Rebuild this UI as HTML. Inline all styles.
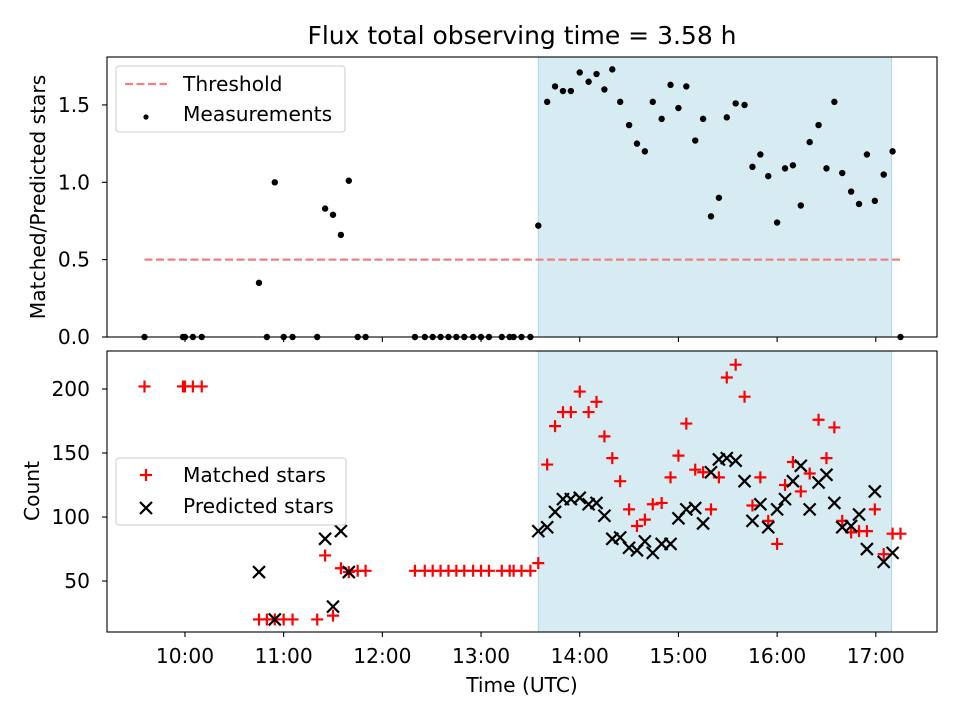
<!DOCTYPE html>
<html><head><meta charset="utf-8"><style>
body{margin:0;background:#fff}
svg{display:block;font-family:"DejaVu Sans","Liberation Sans",sans-serif}
</style></head><body>
<svg id="c" width="960" height="720" viewBox="0 0 960 720"></svg>
<script>
const times=[9.59,9.98,10.0,10.08,10.17,10.75,10.83,10.91,11.0,11.09,11.34,11.42,11.50,11.58,11.66,11.75,11.83,
12.33,12.43,12.51,12.59,12.67,12.75,12.83,12.92,13.0,13.08,13.21,13.29,13.33,13.41,13.5,
13.58,13.67,13.75,13.83,13.91,14.0,14.09,14.17,14.25,14.33,14.41,14.50,14.58,14.66,14.74,14.83,14.92,15.0,15.08,15.17,15.25,15.33,15.41,15.49,15.58,15.67,15.75,15.83,15.91,16.0,16.08,16.16,16.24,16.33,16.42,16.50,16.58,16.66,16.75,16.83,16.91,16.99,17.08,17.17,17.25];
const ratio=[0,0,0,0,0,0.35,0,1.0,0,0,0,0.83,0.79,0.66,1.01,0,0,
0,0,0,0,0,0,0,0,0,0,0,0,0,0,0,
0.72,1.52,1.62,1.59,1.59,1.71,1.65,1.70,1.60,1.73,1.52,1.37,1.25,1.20,1.52,1.41,1.63,1.48,1.62,1.27,1.41,0.78,0.90,1.42,1.51,1.50,1.10,1.18,1.04,0.74,1.09,1.11,0.85,1.26,1.37,1.09,1.52,1.06,0.94,0.86,1.18,0.88,1.05,1.20,0];
const matched=[202,202,202,202,202,20,20,20,20,20,20,70,23,60,57,58,58,
58,58,58,58,58,58,58,58,58,58,58,58,58,58,58,
64,141,171,182,182,198,182,190,163,146,128,106,93,98,110,111,131,148,173,137,135,106,131,209,219,194,109,131,97,79,125,143,120,134,176,146,170,97,88,89,89,106,71,87,87];
const predicted=[null,null,null,null,null,57,null,20,null,null,null,83,30,89,57,null,null,
null,null,null,null,null,null,null,null,null,null,null,null,null,null,null,
89,92,104,114,114,115,110,111,101,83,84,76,74,81,72,79,79,99,106,107,95,135,145,146,144,128,97,110,92,106,114,128,140,106,127,133,111,92,93,102,75,120,65,72,null];
const xTicks=[10,11,12,13,14,15,16,17];
const xTickLabels=["10:00","11:00","12:00","13:00","14:00","15:00","16:00","17:00"];
const topTicks=[0,0.5,1.0,1.5];
const botTicks=[50,100,150,200];
const threshold=0.5, shadeStart=13.58, shadeEnd=17.16, thrStart=9.59, thrEnd=17.25;

const NS="http://www.w3.org/2000/svg";
const svg=document.getElementById('c');
function el(tag,attrs,parent,text){const e=document.createElementNS(NS,tag);for(const k in attrs)e.setAttribute(k,attrs[k]);if(text!=null)e.textContent=text;(parent||svg).appendChild(e);return e;}
const L=107,R=937,T1=57,B1=337,T2=351,B2=632,FS=20.2;
const X=t=>L+(t-9.21)/(17.62-9.21)*(R-L);
const Y1=v=>B1-v/1.81*(B1-T1);
const Y2=v=>B2-(v-10.2)/(229.7-10.2)*(B2-T2);

let e=el('text',{x:522,y:44,'text-anchor':'middle','font-size':25},null,'Flux total observing time = 3.58 h');



[[T1,B1],[T2,B2]].forEach(([a,b],i)=>{
 const r=el('rect',{x:X(shadeStart),y:a,width:X(shadeEnd)-X(shadeStart),height:b-a,fill:'#add8e6','fill-opacity':0.5,stroke:'#add8e6'});
 
 
});

e=el('line',{x1:X(thrStart),x2:X(thrEnd),y1:Y1(threshold),y2:Y1(threshold),stroke:'#f08080','stroke-width':2.2,'stroke-dasharray':'8,3.5'});



times.forEach((t,i)=>{
 const c=el('circle',{cx:X(t),cy:Y1(ratio[i]),r:3.2,fill:'#000'});
 
 
});
times.forEach((t,i)=>{
 if(matched[i]!=null){
  const x=X(t),y=Y2(matched[i]);
  const p=el('path',{d:`M${x-6},${y}H${x+6}M${x},${y-6}V${y+6}`,stroke:'#f00','stroke-width':2.2});
  
  
 }
});
times.forEach((t,i)=>{
 if(predicted[i]!=null){
  const x=X(t),y=Y2(predicted[i]);
  const p=el('path',{d:`M${x-6},${y-6}L${x+6},${y+6}M${x-6},${y+6}L${x+6},${y-6}`,stroke:'#000','stroke-width':2.2});
  
  
 }
});

[[T1,B1],[T2,B2]].forEach(([a,b],i)=>{
 const r=el('rect',{x:L,y:a,width:R-L,height:b-a,fill:'none',stroke:'#000','stroke-width':1.1});
 
 
 xTicks.forEach((t,j)=>{
  el('line',{x1:X(t),x2:X(t),y1:b,y2:b+5,stroke:'#000','stroke-width':1.1});
  if(i){const tx=el('text',{x:X(t),y:663,'text-anchor':'middle','font-size':FS},null,xTickLabels[j]);
   
   }
 });
});
topTicks.forEach(v=>{el('line',{x1:L-5,x2:L,y1:Y1(v),y2:Y1(v),stroke:'#000','stroke-width':1.1});
 const tx=el('text',{x:L-17,y:Y1(v)+7,'text-anchor':'end','font-size':FS},null,v.toFixed(1));
 
 });
botTicks.forEach(v=>{el('line',{x1:L-5,x2:L,y1:Y2(v),y2:Y2(v),stroke:'#000','stroke-width':1.1});
 const tx=el('text',{x:L-17,y:Y2(v)+7,'text-anchor':'end','font-size':FS},null,String(v));
 
 });

e=el('text',{x:0,y:0,transform:'translate(45,197) rotate(-90)','text-anchor':'middle','font-size':FS},null,'Matched/Predicted stars');


e=el('text',{x:0,y:0,transform:'translate(39,491) rotate(-90)','text-anchor':'middle','font-size':FS},null,'Count');


e=el('text',{x:522,y:692,'text-anchor':'middle','font-size':FS},null,'Time (UTC)');



let g=el('g',{});


el('rect',{x:116,y:66,width:229,height:66,rx:3,fill:'#fff','fill-opacity':0.8,stroke:'#ccc'},g);
el('line',{x1:125,x2:167,y1:84,y2:84,stroke:'#f08080','stroke-width':2.2,'stroke-dasharray':'8,3.5'},g);
el('text',{x:183,y:91,'font-size':FS},g,'Threshold');
el('circle',{cx:146,cy:117,r:2.6,fill:'#000'},g);
el('text',{x:183,y:121,'font-size':FS},g,'Measurements');

g=el('g',{});


el('rect',{x:116,y:458,width:230,height:67,rx:3,fill:'#fff','fill-opacity':0.8,stroke:'#ccc'},g);
el('path',{d:'M140,475H152M146,469V481',stroke:'#f00','stroke-width':2.2},g);
el('text',{x:183,y:482,'font-size':FS},g,'Matched stars');
el('path',{d:'M140,502L152,514M140,514L152,502',stroke:'#000','stroke-width':2.2},g);
el('text',{x:183,y:513,'font-size':FS},g,'Predicted stars');
</script>
</body></html>
